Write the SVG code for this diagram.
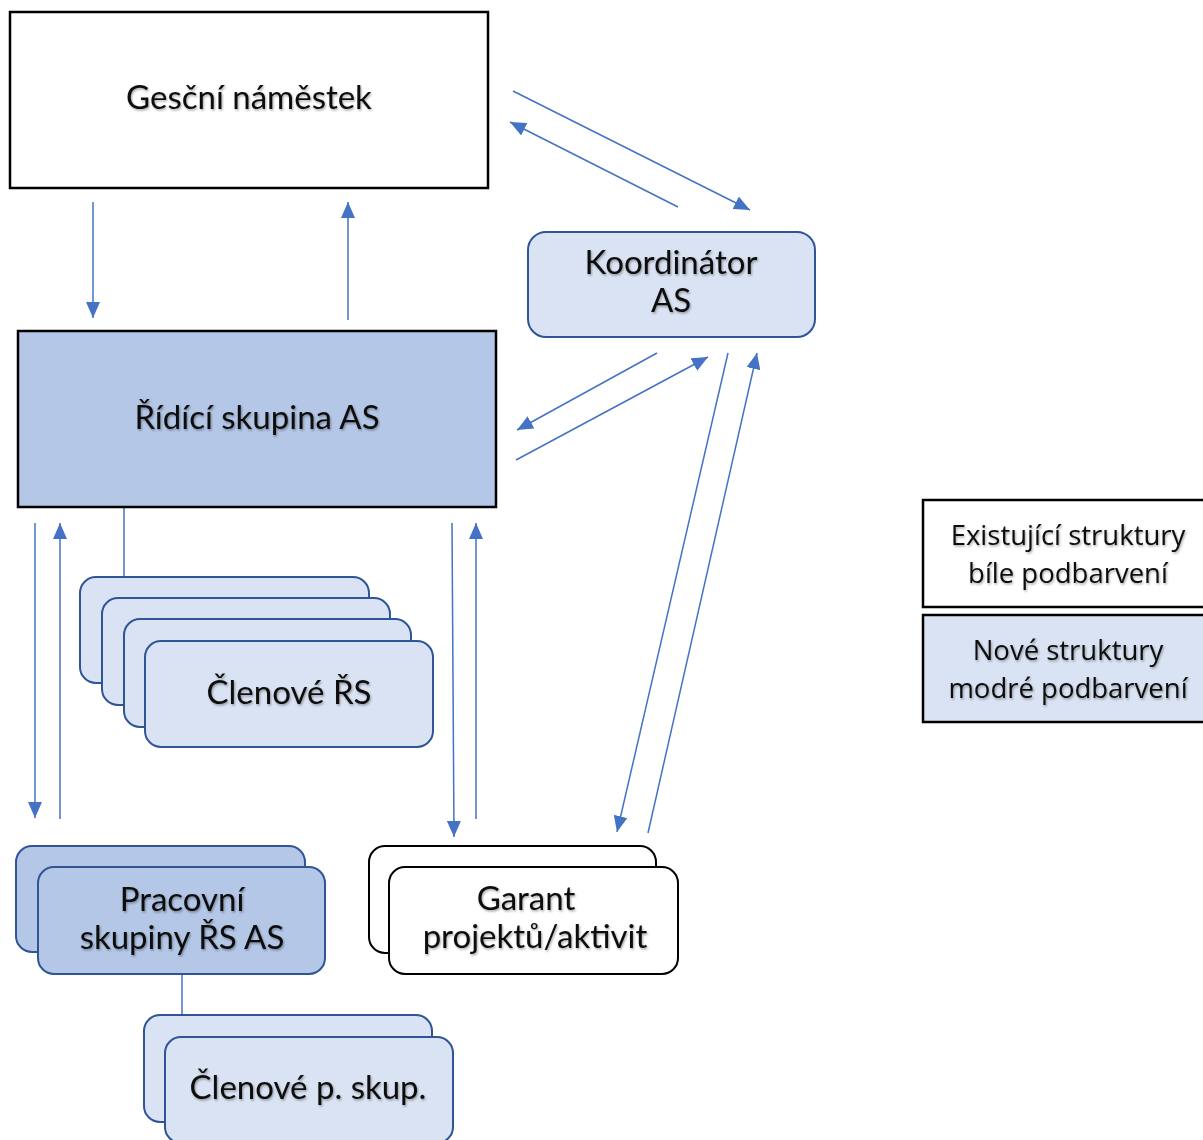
<svg xmlns="http://www.w3.org/2000/svg" width="1203" height="1140" viewBox="0 0 1203 1140">
  <defs>
    <marker id="arrow" viewBox="0 0 16 14" refX="16" refY="7" markerWidth="16" markerHeight="14" markerUnits="userSpaceOnUse" orient="auto">
      <path d="M0,0 L16,7 L0,14 z" fill="#4472c4"/>
    </marker>
    <filter id="soft" x="-5%" y="-20%" width="110%" height="140%">
      <feDropShadow dx="1" dy="1.5" stdDeviation="1" flood-color="#000" flood-opacity="0.35"/>
    </filter>
  </defs>
  <style>
    .lbl { font-family: Lato, "Noto Sans", "Liberation Sans", sans-serif; font-size: 33px; fill: #111; text-anchor: middle; filter: url(#soft); }
    .leg { font-family: "Open Sans", "Noto Sans", "Liberation Sans", sans-serif; font-size: 27.5px; fill: #111; text-anchor: middle; filter: url(#soft); }
    .old { fill: #ffffff; stroke: #000; stroke-width: 2.5; }
    .oldr { fill: #ffffff; stroke: #000; stroke-width: 2; }
    .newlt { fill: #dae3f3; stroke: #2f5597; stroke-width: 2; }
    .newdk { fill: #b4c7e7; stroke: #2f5597; stroke-width: 2; }
    .link { stroke: #4472c4; stroke-width: 1.5; fill: none; }
    .arr { stroke: #4472c4; stroke-width: 1.5; fill: none; marker-end: url(#arrow); }
  </style>

  <rect width="1203" height="1140" fill="#ffffff"/>

  <!-- connectors -->
  <g id="connectors">
    <line class="arr" x1="513" y1="91" x2="750" y2="210"/>
    <line class="arr" x1="678" y1="207" x2="510" y2="122"/>
    <line class="arr" x1="93" y1="202" x2="93" y2="318"/>
    <line class="arr" x1="348" y1="320" x2="348" y2="202"/>
    <line class="arr" x1="657" y1="353" x2="517" y2="430"/>
    <line class="arr" x1="516" y1="460" x2="708" y2="357"/>
    <line class="arr" x1="728" y1="353" x2="617" y2="832"/>
    <line class="arr" x1="648" y1="833" x2="757" y2="353"/>
    <line class="arr" x1="35" y1="523" x2="35" y2="818"/>
    <line class="arr" x1="60" y1="819" x2="60" y2="523"/>
    <line class="arr" x1="452" y1="523" x2="454" y2="837"/>
    <line class="arr" x1="476" y1="819" x2="476" y2="523"/>
    <line class="link" x1="124" y1="507" x2="124" y2="577"/>
    <line class="link" x1="182" y1="974" x2="182" y2="1015"/>
  </g>

  <!-- nodes -->
  <g id="gescni-namestek">
    <rect class="old" x="10" y="12" width="478" height="176"/>
    <text class="lbl" x="249" y="109">Gesční náměstek</text>
  </g>

  <g id="koordinator-as">
    <rect class="newlt" x="528" y="232" width="287" height="105" rx="18"/>
    <text class="lbl" x="671" y="274">Koordinátor</text>
    <text class="lbl" x="671" y="312">AS</text>
  </g>

  <g id="ridici-skupina">
    <rect x="18" y="331" width="478" height="176" fill="#b4c7e7" stroke="#000" stroke-width="2.5"/>
    <text class="lbl" x="257" y="429">Řídící skupina AS</text>
  </g>

  <g id="clenove-rs">
    <rect class="newlt" x="80" y="577" width="289" height="106" rx="16"/>
    <rect class="newlt" x="102" y="598" width="288" height="107" rx="16"/>
    <rect class="newlt" x="124" y="619" width="287" height="108" rx="16"/>
    <rect class="newlt" x="145" y="641" width="288" height="106" rx="16"/>
    <text class="lbl" x="289" y="704">Členové ŘS</text>
  </g>

  <g id="pracovni-skupiny">
    <rect class="newdk" x="16" y="846" width="289" height="106" rx="16"/>
    <rect class="newdk" x="38" y="867" width="287" height="107" rx="16"/>
    <text class="lbl" x="182" y="911">Pracovní</text>
    <text class="lbl" x="182" y="949">skupiny ŘS AS</text>
  </g>

  <g id="garant">
    <rect class="oldr" x="369" y="846" width="287" height="107" rx="16"/>
    <rect class="oldr" x="389" y="867" width="289" height="107" rx="16"/>
    <text class="lbl" x="526" y="910">Garant</text>
    <text class="lbl" x="535" y="948">projektů/aktivit</text>
  </g>

  <g id="clenove-p-skup">
    <rect class="newlt" x="144" y="1015" width="288" height="107" rx="16"/>
    <rect class="newlt" x="165" y="1037" width="288" height="106" rx="16"/>
    <text class="lbl" x="308" y="1099">Členové p. skup.</text>
  </g>

  <!-- legend -->
  <g id="legend-existujici">
    <rect x="923" y="500" width="282" height="107" fill="#ffffff" stroke="#000" stroke-width="2.5"/>
    <text class="leg" x="1068" y="545">Existující struktury</text>
    <text class="leg" x="1068" y="583">bíle podbarvení</text>
  </g>
  <g id="legend-nove">
    <rect x="923" y="615" width="282" height="107" fill="#dae3f3" stroke="#000" stroke-width="2.5"/>
    <text class="leg" x="1068" y="660">Nové struktury</text>
    <text class="leg" x="1068" y="698">modré podbarvení</text>
  </g>
</svg>
